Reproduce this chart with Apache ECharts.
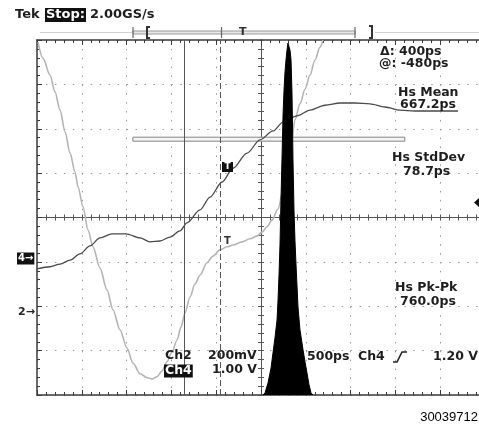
<!DOCTYPE html>
<html><head><meta charset="utf-8">
<script src="https://cdn.jsdelivr.net/npm/echarts/dist/echarts.min.js"></script>
<style>html,body{margin:0;padding:0;background:#fff}#c{width:479px;height:424px}</style>
</head><body><div id="c"></div>
<script>
// Time in ps relative to screen centre (500 ps/div), levels in screen divisions
const ch2Time = [-2489,-2433,-2355,-2299,-2243,-2187,-2131,-2075,-2042,-1986,-1931,-1875,-1797,-1719,-1652,-1574,-1496,-1429,-1350,-1272,-1216,-1161,-1105,-1049,-993,-937,-893,-848,-792,-737,-681,-603,-536,-458,-379,-312,-212,-123,-45,11,67,123,190,246,290,335,379,435,491,547,603,658,692];
const ch2Level = [3.95,3.59,3.21,2.83,2.42,1.93,1.45,1.02,0.69,0.24,-0.28,-0.66,-1.14,-1.63,-2.08,-2.53,-2.94,-3.28,-3.52,-3.61,-3.64,-3.59,-3.46,-3.25,-3.03,-2.76,-2.47,-2.15,-1.79,-1.50,-1.30,-1.02,-0.87,-0.73,-0.66,-0.62,-0.55,-0.48,-0.42,-0.33,-0.21,-0.06,0.19,0.62,1.07,1.63,2.20,2.56,2.89,3.21,3.55,3.84,4.00];
const ch4Time = [-2500,-2355,-2243,-2131,-2020,-1908,-1797,-1663,-1507,-1350,-1239,-1127,-1016,-904,-826,-681,-569,-435,-312,-156,-11,134,246,402,547,714,882,1049,1216,1384,1551,1719,1886,2054,2199];
const ch4Level = [-1.16,-1.11,-1.05,-0.96,-0.82,-0.64,-0.46,-0.37,-0.37,-0.46,-0.55,-0.53,-0.44,-0.30,-0.12,0.17,0.46,0.80,1.11,1.45,1.75,1.95,2.15,2.29,2.42,2.53,2.58,2.58,2.56,2.49,2.42,2.40,2.40,2.40,2.40];
const histTime = [22,45,78,112,134,156,179,190,201,212,223,234,246,257,268,279,290,301,312,324,335,346,357,368,379,391,413,435,469,491,513,536,558,580];
const histLevel = [-4,-3.95,-3.73,-3.39,-3.05,-2.71,-2.31,-1.86,-1.30,-0.62,0.39,1.30,2.31,2.87,3.28,3.55,3.77,3.93,3.93,3.77,3.55,2.80,1.30,0.17,-0.51,-1.07,-2.02,-2.53,-2.98,-3.25,-3.50,-3.77,-3.95,-4];
const cursorTimes = [-860, -450];
const histBox = [-1430, 1.81, 1605, 1.72];
const readouts = {
  sample: '2.00GS/s', delta: 'Δ: 400ps', at: '@: -480ps',
  mean: ['Hs Mean', '667.2ps'], std: ['Hs StdDev', '78.7ps'], pkpk: ['Hs Pk-Pk', '760.0ps'],
  ch2: ['Ch2', '200mV'], ch4: ['Ch4', '1.00 V'], time: '500ps', trig: ['Ch4', '1.20 V'], fig: '30039712'
};

const chart = echarts.init(document.getElementById('c'), null, {renderer: 'canvas'});
const FRAME = '#3a3a3a', CENTER = '#555', DOT = '#999';
const xBase = {type: 'value', min: -2500, max: 2500, interval: 500, axisLabel: {show: false}, splitLine: {show: false}};
const yBase = {type: 'value', min: -4, max: 4, interval: 1, axisLabel: {show: false}, splitLine: {show: false}};
function frameAxis(base, pos, split, dash) {
  return Object.assign({}, base, {
    position: pos,
    axisLine: {show: true, onZero: false, lineStyle: {color: FRAME, width: 1.5}},
    axisTick: {show: true, inside: true, length: 5, lineStyle: {color: FRAME, width: 1}},
    minorTick: {show: true, splitNumber: 5, length: 3, lineStyle: {color: FRAME, width: 1}},
    splitLine: {show: split, lineStyle: {color: DOT, width: 1, type: dash}}
  });
}
function centerAxis(base, pos, inside) {
  return Object.assign({}, base, {
    position: pos,
    axisLine: {show: true, onZero: true, onZeroAxisIndex: 0, lineStyle: {color: CENTER, width: 1}},
    axisTick: {show: true, inside: inside, length: 3, lineStyle: {color: CENTER, width: 1}},
    minorTick: {show: true, splitNumber: 5, length: 3, lineStyle: {color: CENTER, width: 1}}
  });
}

const g = [];
function txt(s, x, y, opt) {
  g.push({type: 'text', x: x, y: y, z: 100, style: Object.assign({
    text: s, font: 'bold 12.5px "DejaVu Sans"', fill: '#1e1e1e',
    align: 'left', verticalAlign: 'middle', textAlign: 'left', textVerticalAlign: 'middle'
  }, opt || {})});
}
function ln(x1, y1, x2, y2, stroke, w) {
  g.push({type: 'line', z: 100, shape: {x1: x1, y1: y1, x2: x2, y2: y2}, style: {stroke: stroke, lineWidth: w}});
}
function pl(points, stroke, w) {
  g.push({type: 'polyline', z: 100, shape: {points: points}, style: {stroke: stroke, lineWidth: w, fill: null}});
}
// header
txt('Tek', 15, 15, {font: 'bold 13px "DejaVu Sans"'});
txt('Stop:', 45, 15, {font: 'bold 13px "DejaVu Sans"', fill: '#fff', backgroundColor: '#111', padding: [1, 1, 0, 1]});
txt(readouts.sample, 90, 15, {font: 'bold 13px "DejaVu Sans"'});
// record bar
ln(40, 32.5, 133, 32.5, '#cfcfcf', 1);
g.push({type: 'rect', z: 99, shape: {x: 133, y: 31, width: 222, height: 3}, style: {fill: '#e8e8e8', stroke: '#9a9a9a', lineWidth: 1}});
ln(133, 27, 133, 38, '#666', 1.2);
ln(221.5, 27, 221.5, 38, '#666', 1.2);
ln(355, 27, 355, 38, '#666', 1.2);
pl([[150, 27], [147, 27], [147, 38], [150, 38]], '#333', 2);
txt('T', 239, 32, {font: 'bold 11px "DejaVu Sans"', fill: '#333'});
pl([[369, 26], [372, 26], [372, 38], [369, 38]], '#333', 2);
ln(375, 32.5, 479, 32.5, '#d3d3d3', 1);
// cursor readouts & measurements
txt(readouts.delta, 380, 52);
txt(readouts.at, 379, 64);
txt(readouts.mean[0], 398, 92.5);
txt(readouts.mean[1], 400, 105);
txt(readouts.std[0], 392, 158);
txt(readouts.std[1], 403, 172);
txt(readouts.pkpk[0], 395, 288);
txt(readouts.pkpk[1], 400, 302);
// bottom readouts
txt(readouts.ch2[0], 165, 356);
txt(readouts.ch2[1], 208, 356);
txt(readouts.ch4[0], 164, 371, {fill: '#fff', backgroundColor: '#111', padding: [0, 1, 0, 1]});
txt(readouts.ch4[1], 212, 370);
txt(readouts.time, 307, 357);
txt(readouts.trig[0], 358, 357);
pl([[393, 362], [397, 362], [402, 352], [407, 352]], '#222', 1.6);
txt(readouts.trig[1], 433, 357);
txt(readouts.fig, 478, 417, {font: '13px "Liberation Sans"', fill: '#000', align: 'right', textAlign: 'right'});
// channel markers
txt('4→', 17, 258.5, {font: 'bold 10px "DejaVu Sans"', fill: '#fff', backgroundColor: '#111', padding: [1, 1, 1, 1]});
txt('2→', 18, 312, {font: 'bold 11px "DejaVu Sans"', fill: '#222'});
g.push({type: 'rect', z: 100, shape: {x: 222, y: 162, width: 11, height: 10}, style: {fill: '#111'}});
txt('T', 224.5, 167, {font: 'bold 9px "DejaVu Sans"', fill: '#fff'});
txt('T', 224, 241, {font: 'bold 10px "DejaVu Sans"', fill: '#333'});
g.push({type: 'polygon', z: 100, shape: {points: [[479, 198], [474, 202.5], [479, 207]]}, style: {fill: '#111'}});

const pairs = (a, b) => a.map((t, i) => [t, b[i]]);
chart.setOption({
  animation: false,
  backgroundColor: '#fff',
  grid: {left: 37, top: 40, width: 448, height: 355, outerBoundsMode: 'none', containLabel: false},
  xAxis: [
    frameAxis(xBase, 'bottom', true, [1.5, 7.38]),
    frameAxis(xBase, 'top', false, 'solid'),
    centerAxis(xBase, 'bottom', true),
    centerAxis(xBase, 'bottom', false)
  ],
  yAxis: [
    frameAxis(yBase, 'left', true, [1.5, 7.46]),
    frameAxis(yBase, 'right', false, 'solid'),
    centerAxis(yBase, 'left', true),
    centerAxis(yBase, 'left', false)
  ],
  series: [
    {type: 'line', name: 'Ch2', data: pairs(ch2Time, ch2Level), showSymbol: false, smooth: 0.3, smoothMonotone: 'x',
      lineStyle: {color: '#b4b4b4', width: 1.6}, z: 2, silent: true},
    {type: 'line', name: 'Ch4', data: pairs(ch4Time, ch4Level), showSymbol: false, smooth: 0.3, smoothMonotone: 'x',
      lineStyle: {color: '#4a4a4a', width: 1.3}, z: 3, silent: true},
    {type: 'line', name: 'Histogram', data: pairs(histTime, histLevel), showSymbol: false, smooth: false,
      lineStyle: {color: '#000', width: 1}, areaStyle: {color: '#000', opacity: 1, origin: 'start'}, z: 4, silent: true},
    {type: 'line', name: 'markers', data: [], z: 6, silent: true,
      markLine: {symbol: 'none', silent: true, animation: false, label: {show: false},
        data: [
          {xAxis: cursorTimes[0], lineStyle: {type: 'solid', color: '#555', width: 1}},
          {xAxis: cursorTimes[1], lineStyle: {type: [6, 3], color: '#555', width: 1}}
        ]},
      markArea: {silent: true, animation: false, itemStyle: {color: '#f4f4f4', borderColor: '#858585', borderWidth: 1},
        data: [[{coord: [histBox[0], histBox[1]]}, {coord: [histBox[2], histBox[3]]}]]}
    }
  ],
  graphic: {elements: g}
});
</script></body></html>
